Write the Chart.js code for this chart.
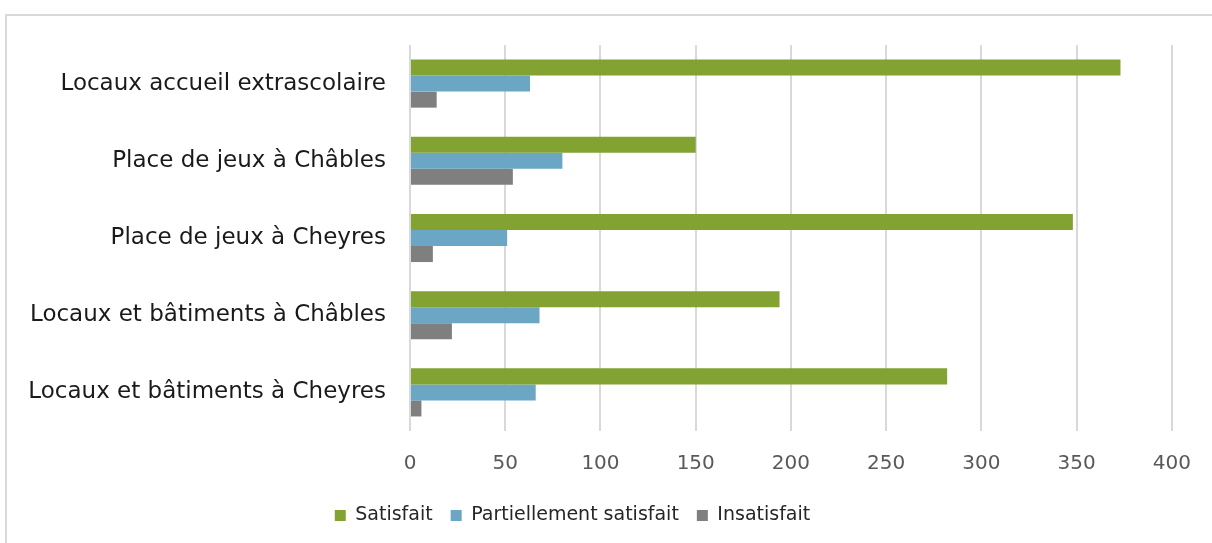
<!DOCTYPE html>
<html>
<head>
<meta charset="utf-8">
<script src="https://cdn.jsdelivr.net/npm/chart.js@4/dist/chart.umd.min.js"></script>
<style>
    html, body { margin: 0; padding: 0; background: #fff; overflow: hidden; }
    .frame {
        position: absolute; left: 5px; top: 14px;
        width: 1400px; height: 700px;
        border: 2px solid #d9d9d9;
    }
    #chart { position: absolute; left: 0; top: 0; }
</style>
</head>
<body>
<div class="frame"></div>
<canvas id="chart" width="1212" height="543"></canvas>
<script>
// Satisfaction - infrastructures
const categories = [
    'Locaux accueil extrascolaire',
    'Place de jeux à Châbles',
    'Place de jeux à Cheyres',
    'Locaux et bâtiments à Châbles',
    'Locaux et bâtiments à Cheyres'
];
const satisfait = [373, 150, 348, 194, 282];
const partiellement = [63, 80, 51, 68, 66];
const insatisfait = [14, 54, 12, 22, 6];
const xTicks = [0, 50, 100, 150, 200, 250, 300, 350, 400];

const FONT = 'DejaVu Sans, sans-serif';

// decale la legende un peu vers la gauche (comme dans Excel)
const legendShift = {
    id: 'legendShift',
    afterLayout(chart) {
        if (!chart.legend) return;
        chart.legend.left -= 16;
        chart.legend.right -= 16;
    }
};

new Chart(document.getElementById('chart'), {
    type: 'bar',
    data: {
        labels: categories,
        datasets: [{
            label: 'Satisfait',
            data: satisfait,
            backgroundColor: '#82a232'
        }, {
            label: 'Partiellement satisfait',
            data: partiellement,
            backgroundColor: '#6ba7c5'
        }, {
            label: 'Insatisfait',
            data: insatisfait,
            backgroundColor: '#7f7f7f'
        }]
    },
    plugins: [legendShift],
    options: {
        indexAxis: 'y',
        responsive: false,
        animation: false,
        categoryPercentage: 0.623,
        barPercentage: 1,
        layout: { padding: { left: 0, right: 35, top: 45, bottom: 8 } },
        plugins: {
            legend: {
                position: 'bottom',
                labels: {
                    boxWidth: 11,
                    boxHeight: 11,
                    padding: 18,
                    color: '#262626',
                    font: { family: FONT, size: 19 }
                }
            },
            tooltip: { enabled: false }
        },
        scales: {
            x: {
                min: 0,
                max: 400,
                afterBuildTicks: function(scale) {
                    scale.ticks = xTicks.map(v => ({ value: v }));
                },
                afterFit: function(scale) { scale.height = 57; },
                grid: { color: '#d9d9d9', lineWidth: 2, drawTicks: false },
                border: { display: false },
                ticks: {
                    padding: 21,
                    color: '#595959',
                    font: { family: FONT, size: 20 }
                }
            },
            y: {
                afterFit: function(scale) { scale.width = 410; },
                grid: { display: false, drawTicks: false },
                border: { display: false },
                ticks: {
                    padding: 24,
                    color: '#1a1a1a',
                    font: { family: FONT, size: 23 }
                }
            }
        }
    }
});
</script>
</body>
</html>
